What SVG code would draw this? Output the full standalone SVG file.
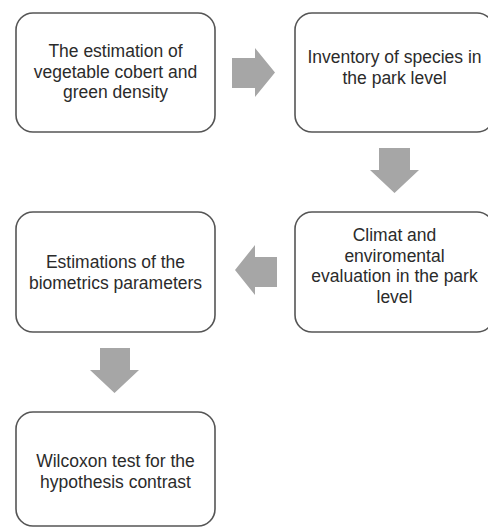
<svg xmlns="http://www.w3.org/2000/svg" width="488" height="527" viewBox="0 0 488 527">
<style>
.box{fill:#fff;stroke:#555;stroke-width:1.6}
.t{font-family:"Liberation Sans",Arial,sans-serif;font-size:17.5px;fill:#2b2b2b;text-anchor:middle}
.arr{fill:#a6a6a6}
</style>
<rect width="488" height="527" fill="#fff"/>
<g id="connectors">
<polygon class="arr" points="232,58 255,58 255,48 275,72.5 255,97 255,88 232,88"/>
<polygon class="arr" points="379,148 410,148 410,170 419,170 394.5,193 370,170 379,170"/>
<polygon class="arr" points="277,257 255,257 255,245 235,270 255,295 255,287 277,287"/>
<polygon class="arr" points="100,348 130,348 130,370 139,370 114.5,393 90,370 100,370"/>
</g>
<g id="n1">
<rect class="box" x="16" y="13" width="199" height="119" rx="17"/>
<text class="t" x="115.5" y="57">The estimation of</text>
<text class="t" x="115.5" y="77.5">vegetable cobert and</text>
<text class="t" x="115.5" y="98">green density</text>
</g>
<g id="n2">
<rect class="box" x="295" y="13" width="199" height="119" rx="17"/>
<text class="t" x="394.5" y="63">Inventory of species in</text>
<text class="t" x="394.5" y="83.5">the park level</text>
</g>
<g id="n3">
<rect class="box" x="295" y="212" width="199" height="120" rx="17"/>
<text class="t" x="394.5" y="241">Climat and</text>
<text class="t" x="394.5" y="261.5">enviromental</text>
<text class="t" x="394.5" y="282">evaluation in the park</text>
<text class="t" x="394.5" y="302.5">level</text>
</g>
<g id="n4">
<rect class="box" x="16" y="212" width="199" height="120" rx="17"/>
<text class="t" x="115.5" y="268">Estimations of the</text>
<text class="t" x="115.5" y="288.5">biometrics parameters</text>
</g>
<g id="n5">
<rect class="box" x="16" y="412" width="199" height="114" rx="17"/>
<text class="t" x="115.5" y="467">Wilcoxon test for the</text>
<text class="t" x="115.5" y="487.5">hypothesis contrast</text>
</g>
</svg>
